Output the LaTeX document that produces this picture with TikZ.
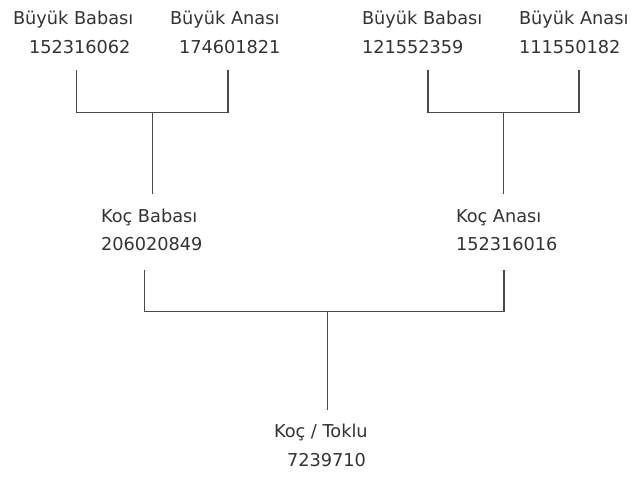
\documentclass[tikz,border=0pt]{standalone}
\usepackage{fontspec}
\setmainfont{DejaVu Sans}
\definecolor{txt}{HTML}{333333}
\definecolor{ln}{HTML}{4A4A4A}
\begin{document}
\begin{tikzpicture}[x=0.75pt,y=-0.75pt,
  lbl/.style={anchor=base west,inner sep=0pt,outer sep=0pt,text=txt,font=\fontsize{13.3pt}{16pt}\selectfont},
  link/.style={draw=ln,line width=0.8pt}]
\useasboundingbox (0,0) rectangle (636,478);
% top-left grandparents
\node[lbl] (gb1) at (13,25) {Büyük Babası};
\node[lbl] (gb1n) at (29,53.3) {152316062};
\node[lbl] (ga1) at (170,25) {Büyük Anası};
\node[lbl] (ga1n) at (179,53.3) {174601821};
% top-right grandparents
\node[lbl] (gb2) at (362,25) {Büyük Babası};
\node[lbl] (gb2n) at (362,53.3) {121552359};
\node[lbl] (ga2) at (519,25) {Büyük Anası};
\node[lbl] (ga2n) at (519,53.3) {111550182};
% parents
\node[lbl] (kb) at (101,222) {Koç Babası};
\node[lbl] (kbn) at (101,250.7) {206020849};
\node[lbl] (ka) at (456,222) {Koç Anası};
\node[lbl] (kan) at (456,250.7) {152316016};
% child
\node[lbl] (kt) at (274,437) {Koç / Toklu};
\node[lbl] (ktn) at (287,466.7) {7239710};
% connector points
\coordinate (a1) at (76.7,70.5);
\coordinate (a2) at (228,70.5);
\coordinate (a1b) at (76.7,112.5);
\coordinate (a2b) at (228,112.5);
\coordinate (am) at (152.7,112.5);
\coordinate (ae) at (152.7,194);
\coordinate (b1) at (428,70.5);
\coordinate (b2) at (579,70.5);
\coordinate (b1b) at (428,112.5);
\coordinate (b2b) at (579,112.5);
\coordinate (bm) at (503.3,112.5);
\coordinate (be) at (503.3,194);
\coordinate (c1) at (144.3,270);
\coordinate (c2) at (504,270);
\coordinate (c1b) at (144.3,311.5);
\coordinate (c2b) at (504,311.5);
\coordinate (cm) at (327.7,311.5);
\coordinate (ce) at (327.7,410);
\draw[link] (a1) -- (a1b) -- (a2b) -- (a2);
\draw[link] (am) -- (ae);
\draw[link] (b1) -- (b1b) -- (b2b) -- (b2);
\draw[link] (bm) -- (be);
\draw[link] (c1) -- (c1b) -- (c2b) -- (c2);
\draw[link] (cm) -- (ce);
\end{tikzpicture}
\end{document}
